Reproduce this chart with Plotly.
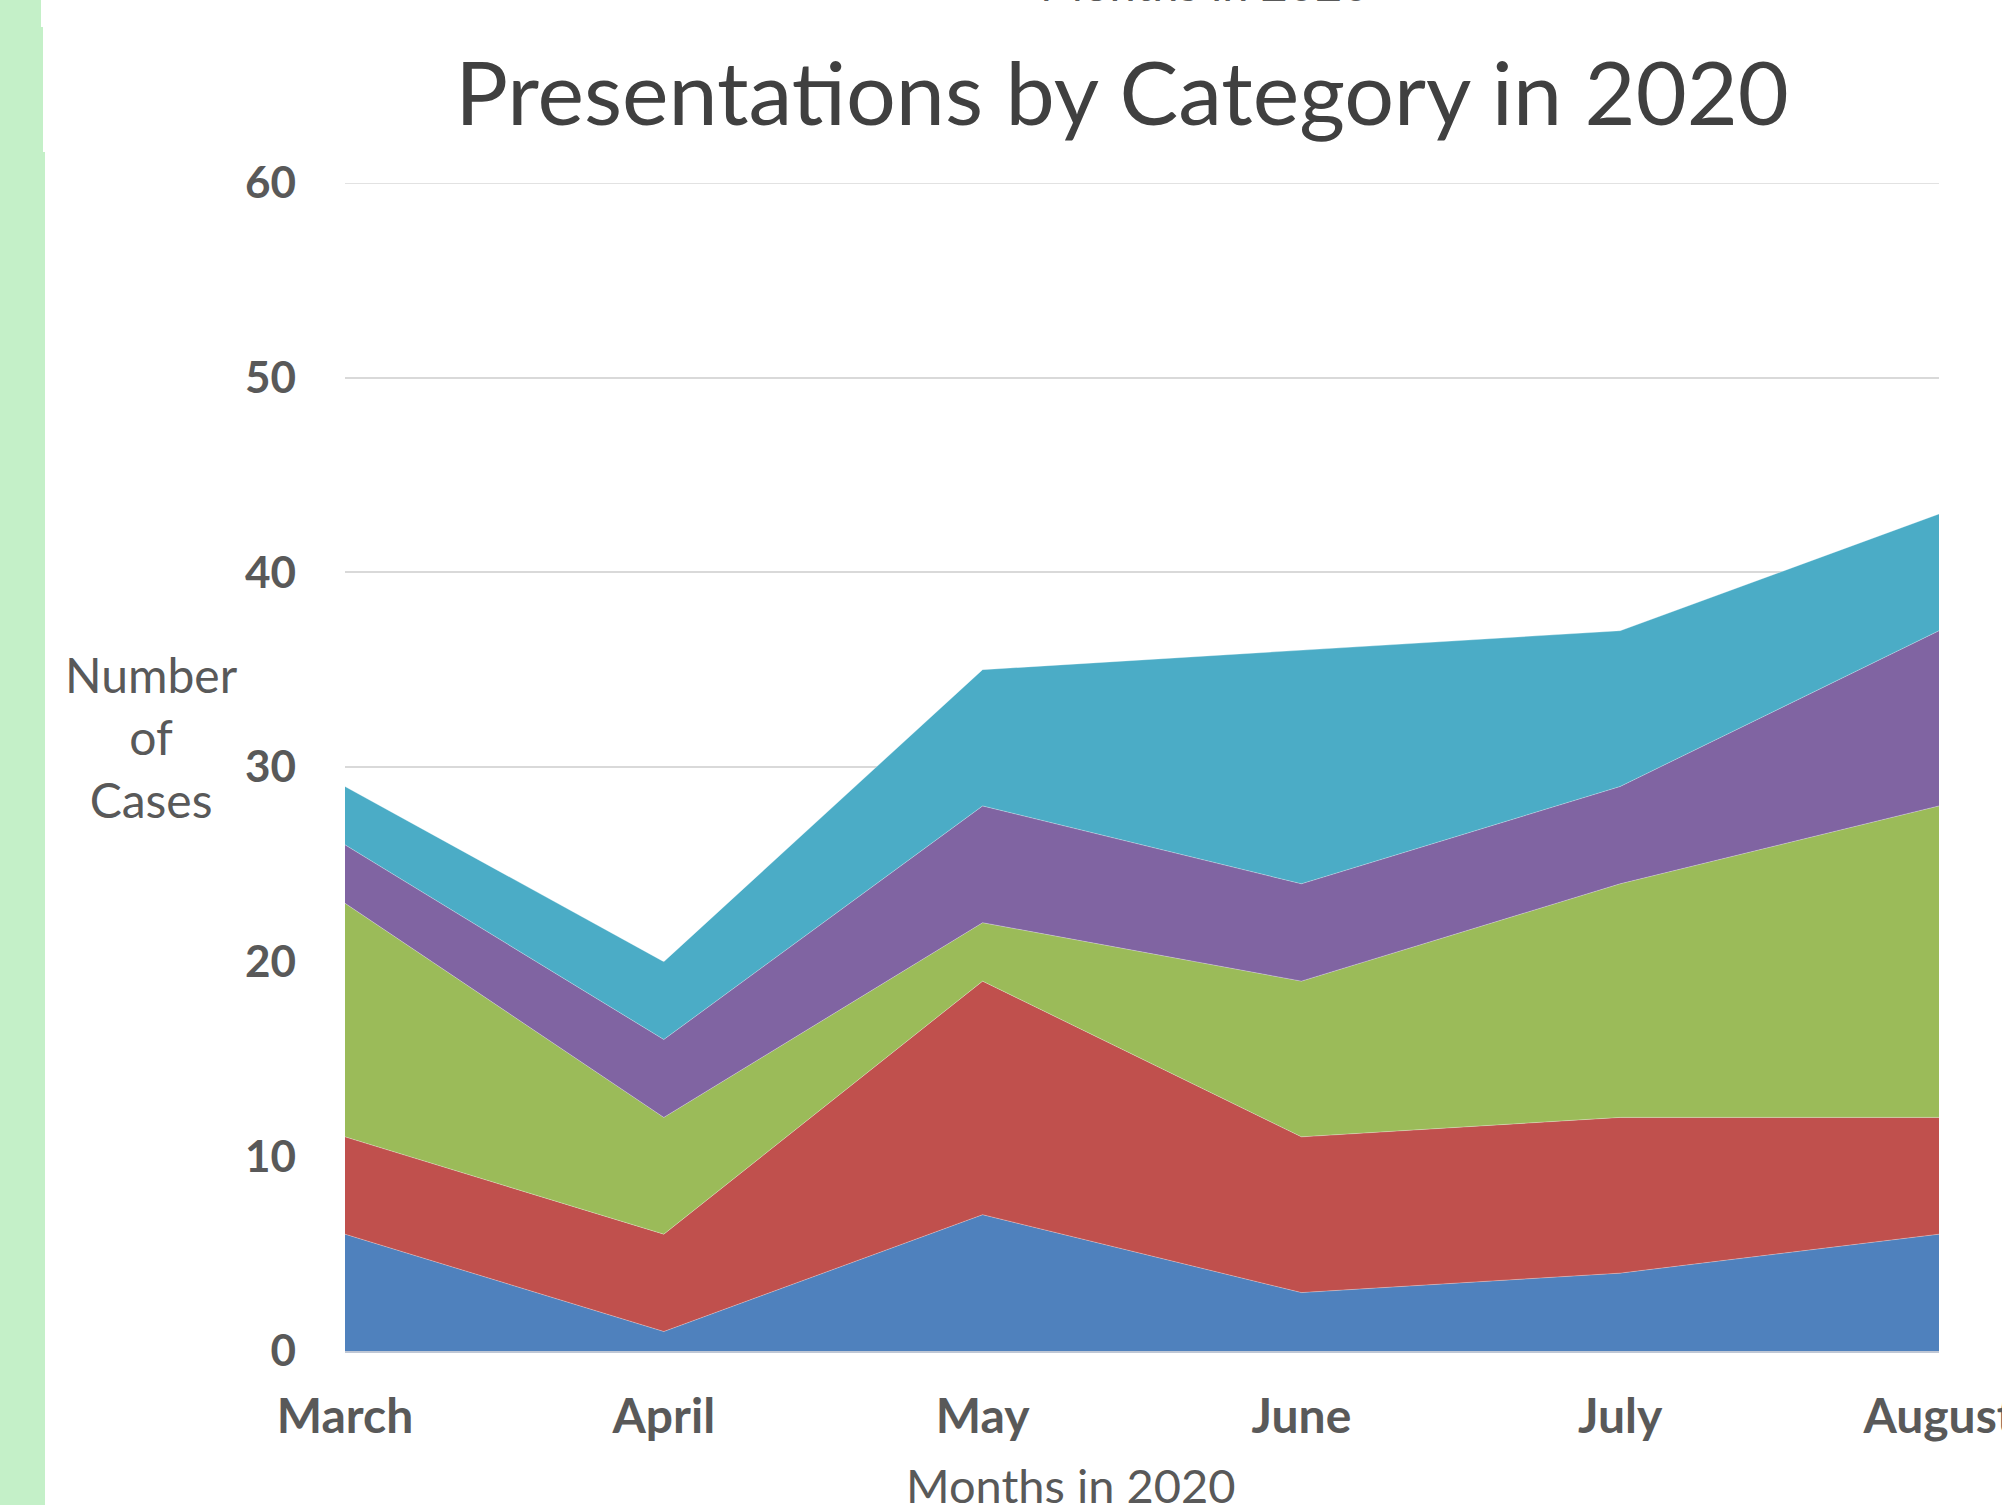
import plotly.graph_objects as go

months = ["March", "April", "May", "June", "July", "August"]
series_names = ["Category 1", "Category 2", "Category 3", "Category 4", "Category 5"]
cat1 = [6, 1, 7, 3, 4, 6]
cat2 = [5, 5, 12, 8, 8, 6]
cat3 = [12, 6, 3, 8, 12, 16]
cat4 = [3, 4, 6, 5, 5, 9]
cat5 = [3, 4, 7, 12, 8, 6]
colors = ["#4F81BD", "#C0504D", "#9BBB59", "#8064A2", "#4BACC6"]
y_ticks = [0, 10, 20, 30, 40, 50, 60]

W, H = 2002, 1505
L, R, T, B = 345, 63, 183, 154
pw, ph = W - L - R, H - T - B

FONT = "Lato"
GRAY = "#595959"

fig = go.Figure()
for name, vals, col in zip(series_names, [cat1, cat2, cat3, cat4, cat5], colors):
    fig.add_trace(go.Scatter(
        x=list(range(len(months))), y=vals, name=name, mode="lines",
        stackgroup="one", line=dict(width=0.5, color="rgba(255,255,255,0.6)"),
        fillcolor=col, showlegend=False,
    ))

def px_x(p):
    return (p - L) / pw

def px_y(p):
    return 1 - (p - T) / ph

strip = [(0, 27, 41), (27, 152, 43), (152, H, 45)]
shapes = [dict(type="rect", xref="paper", yref="paper",
               x0=px_x(-5), x1=px_x(xr), y0=px_y(y1), y1=px_y(y0 if y0 > 0 else -5),
               fillcolor="#C4F0C8", line=dict(width=0), layer="below")
          for (y0, y1, xr) in strip]
# top gridline (plotly omits the gridline that sits on the plot edge)
shapes.append(dict(type="line", xref="paper", yref="y", x0=0, x1=1,
                   y0=y_ticks[-1], y1=y_ticks[-1],
                   line=dict(color="#D9D9D9", width=1.5), layer="below"))

fig.update_layout(
    width=W, height=H,
    margin=dict(l=L, r=R, t=T, b=B, pad=0, autoexpand=False),
    paper_bgcolor="white", plot_bgcolor="white",
    font=dict(family=FONT, color=GRAY),
    title=dict(text="Presentations by Category in 2020", x=1122 / W, xanchor="center",
               y=1 - 94 / H, yanchor="middle",
               font=dict(family=FONT, size=88, color="#404040")),
    xaxis=dict(
        range=[0, 5], tickmode="array", tickvals=list(range(len(months))), ticktext=months,
        showgrid=False, zeroline=False, showline=True, linecolor="#BFC7D5", linewidth=2,
        ticks="", ticklabelstandoff=22, ticklabeloverflow="allow", automargin=False,
        tickfont=dict(family=FONT, size=48, color=GRAY, weight="bold"),
    ),
    yaxis=dict(
        range=[0, 60], tickmode="array", tickvals=y_ticks, automargin=False,
        showgrid=True, gridcolor="#D9D9D9", gridwidth=1.5, zeroline=False, showline=False,
        ticks="", ticklabelstandoff=48,
        tickfont=dict(family=FONT, size=44, color=GRAY, weight="bold"),
    ),
    shapes=shapes,
    annotations=[
        dict(text="Months in 2020", xref="paper", yref="paper",
             x=px_x(1071), y=px_y(1485), xanchor="center", yanchor="middle",
             showarrow=False, font=dict(family=FONT, size=47, color=GRAY)),
        dict(text="Months in 2020", xref="paper", yref="paper",
             x=px_x(1205), y=px_y(-17), xanchor="center", yanchor="middle",
             showarrow=False, font=dict(family=FONT, size=47, color=GRAY)),
        dict(text="Number<br>of<br>Cases", xref="paper", yref="paper",
             x=px_x(151), y=px_y(737), xanchor="center", yanchor="middle",
             showarrow=False, align="center",
             font=dict(family=FONT, size=48, color=GRAY)),
    ],
)

fig.write_html("out.html")
